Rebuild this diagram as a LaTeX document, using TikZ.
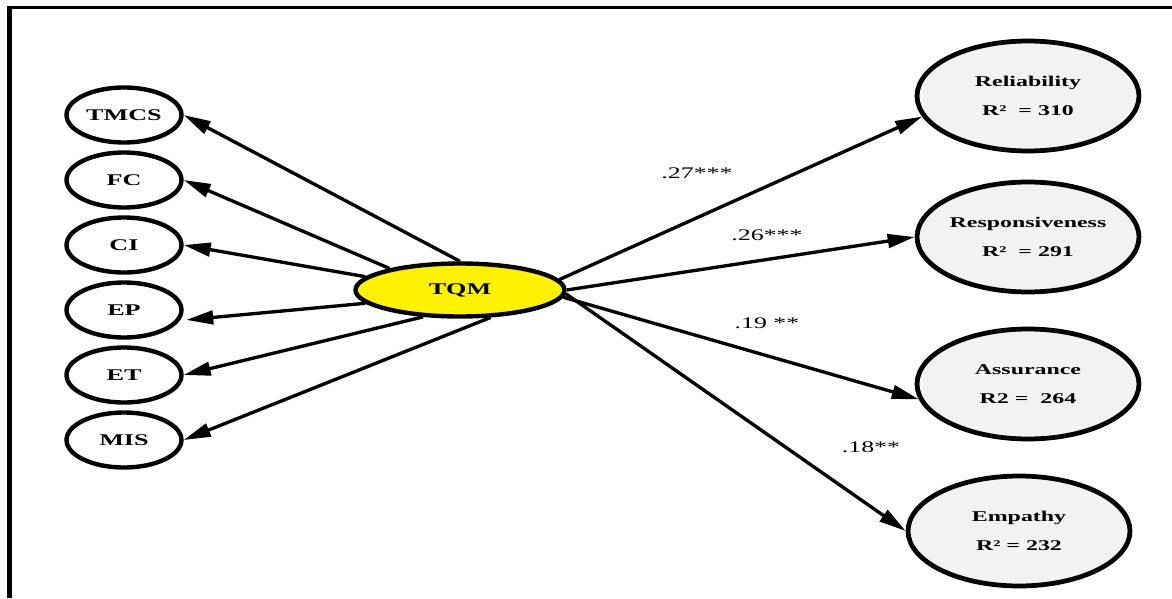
\documentclass[tikz,border=0pt]{standalone}
\usepackage{fontspec}
\usepackage{tikz}
\usetikzlibrary{shapes.geometric,arrows.meta}

\newfontfamily\widefont[FakeStretch=1.6]{Liberation Serif}

\begin{document}
\begin{tikzpicture}[x=0.02cm, y=-0.02cm,
    factor/.style={ellipse, draw, line width=2.5pt, minimum width=2.3cm,
      minimum height=1.1cm, inner sep=0pt,
      font=\widefont\fontsize{9.3}{11}\selectfont\bfseries},
    quality/.style={ellipse, draw, line width=2.7pt, fill=black!5,
      minimum width=4.44cm, minimum height=2.2cm, inner sep=0pt, align=center,
      font=\widefont\fontsize{8.5}{16.3}\selectfont\bfseries},
    arr/.style={line width=1.9pt, -{Triangle[length=0.54cm,width=0.27cm]}},
    coef/.style={font=\widefont\fontsize{9.2}{11}\selectfont}]

      \useasboundingbox (0,0) rectangle (1172,598);

      % Frame
      \draw [line width=1.8pt] (9.5,7.5) -- (1172,7.5);
      \draw [line width=2.9pt] (9.5,6) -- (9.5,598);

      % Dimensions of TQM
      \node [factor] (tmcs) at (124,115) {TMCS};
      \node [factor] (fc) at (124,180) {FC};
      \node [factor] (ci) at (124,245) {CI};
      \node [factor] (ep) at (124,310) {EP};
      \node [factor] (et) at (124,375) {ET};
      \node [factor] (mis) at (124,440) {MIS};

      % TQM
      \node [ellipse, draw, fill=yellow, line width=2.5pt, minimum width=4.18cm,
        minimum height=1.06cm, inner sep=0pt,
        font=\widefont\fontsize{9.3}{11}\selectfont\bfseries] (tqm) at (460,290) {TQM};

      % Service quality
      \node [quality] (rel) at (1028,96) {Reliability\\R²~~= 310};
      \node [quality] (res) at (1028,237) {Responsiveness\\R²~~= 291};
      \node [quality] (asr) at (1028,384) {Assurance\\R2 =~~264};
      \node [quality] (emp) at (1019,531) {Empathy\\R² = 232};

      % Left arrows
      \draw [arr] (tqm.north) -- (tmcs.east);
      \draw [arr] (tqm.163) -- (fc.east);
      \draw [arr] (tqm.172) -- (ci.east);
      \draw [arr] (tqm.188) -- ([xshift=0.12cm]ep.-10);
      \draw [arr] (tqm.216) -- (et.east);
      \draw [arr] (tqm.-42) -- (mis.east);

      % Right arrows
      \draw [arr] (tqm.6) -- (rel.191);
      \draw [arr] (tqm.east) -- (res.west);
      \draw [arr] (tqm.-4) -- (asr.188);
      \draw [arr] (tqm.-2) -- (emp.west);

      % Coefficients
      \node [coef] (b1) at (697,173) {.27***};
      \node [coef] (b2) at (767,235) {.26***};
      \node [coef] (b3) at (767,323) {.19 **};
      \node [coef] (b4) at (871,447) {.18**};
    \end{tikzpicture}
\end{document}
